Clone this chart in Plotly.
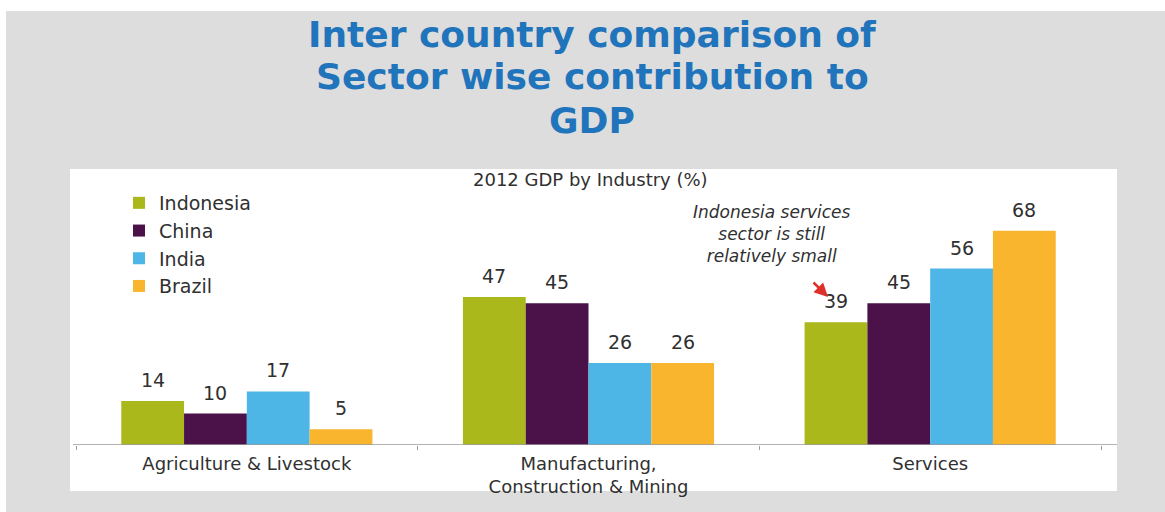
import plotly.graph_objects as go

# ---------------- data ----------------
categories = ["Agriculture & Livestock", "Manufacturing,<br>Construction & Mining", "Services"]
countries = ["Indonesia", "China", "India", "Brazil"]
indonesia = [14, 47, 39]
china = [10, 45, 45]
india = [17, 26, 56]
brazil = [5, 26, 68]
colors = ["#aab81c", "#4a1248", "#4db6e6", "#fab52f"]

title_lines = ["Inter country comparison of", "Sector wise contribution to", "GDP"]
subtitle = "2012 GDP by Industry (%)"
note = "Indonesia services<br>sector is still<br>relatively small"

# ---------------- layout helpers (pixels -> paper) ----------------
W, H = 1165, 512
L, R, B, T = 76, 1101, 445, 172
BARGAP = 0.265
PX_PER_UNIT = 3.15


def px(x):
    return (x - L) / (R - L)


def py(y):
    return (B - y) / (B - T)


series = [indonesia, china, india, brazil]
TEXT = "#303030"
FONT = "DejaVu Sans"

fig = go.Figure()
for name, vals, col in zip(countries, series, colors):
    fig.add_trace(go.Bar(x=categories, y=vals, name=name, marker=dict(color=col, line=dict(width=0))))

annotations = []
# value labels above bars
n = len(series)
bw = (1 - BARGAP) / n
for i, vals in enumerate(series):
    for j, v in enumerate(vals):
        annotations.append(dict(
            x=j + (i - (n - 1) / 2) * bw, y=v, xref="x", yref="y",
            text=str(v), showarrow=False, yanchor="bottom", yshift=8,
            font=dict(family=FONT, size=19, color=TEXT)))

# title
for k, (line, yc) in enumerate(zip(title_lines, [34, 77, 120])):
    annotations.append(dict(
        x=px(592), y=py(yc), xref="paper", yref="paper", text=line,
        showarrow=False, xanchor="center", yanchor="middle",
        font=dict(family="DejaVu Sans", size=36, color="#1f74bb", weight="bold")))

# subtitle
annotations.append(dict(
    x=px(590), y=py(179), xref="paper", yref="paper", text=subtitle,
    showarrow=False, xanchor="center", yanchor="middle",
    font=dict(family=FONT, size=18, color=TEXT)))

# note
annotations.append(dict(
    x=px(772), y=py(234), xref="paper", yref="paper", text=note,
    showarrow=False, xanchor="center", yanchor="middle", align="center",
    font=dict(family=FONT, size=17, color=TEXT, style="italic")))

# red arrow
annotations.append(dict(
    x=px(828), y=py(297), xref="paper", yref="paper", text="",
    showarrow=True, ax=-16, ay=-16, arrowhead=2, arrowsize=1.1, arrowwidth=2.5,
    arrowcolor="#e0302a"))

shapes = [
    # white strips at top / left edge
    dict(type="rect", xref="paper", yref="paper", x0=px(0), x1=px(W), y0=py(11), y1=py(0),
         fillcolor="white", line=dict(width=0), layer="below"),
    dict(type="rect", xref="paper", yref="paper", x0=px(0), x1=px(6), y0=py(H), y1=py(0),
         fillcolor="white", line=dict(width=0), layer="below"),
    # white chart panel
    dict(type="rect", xref="paper", yref="paper", x0=px(70), x1=px(1117), y0=py(491), y1=py(169),
         fillcolor="white", line=dict(width=0), layer="below"),
    # baseline
    dict(type="line", xref="paper", yref="y", x0=px(73), x1=px(1117), y0=0, y1=0,
         line=dict(color="#9a9a9a", width=1.5)),
]

fig.update_layout(
    width=W, height=H,
    margin=dict(l=L, r=W - R, t=T, b=H - B, pad=0),
    paper_bgcolor="#dddddd",
    plot_bgcolor="rgba(0,0,0,0)",
    barmode="group", bargap=BARGAP, bargroupgap=0,
    showlegend=True,
    legend=dict(x=px(119), y=py(184), xanchor="left", yanchor="top",
                bgcolor="rgba(0,0,0,0)", font=dict(family=FONT, size=19, color=TEXT),
                traceorder="normal"),
    xaxis=dict(type="category", showgrid=False, zeroline=False, showline=False,
               ticks="outside", tickson="boundaries", ticklen=4, tickcolor="#9a9a9a",
               tickfont=dict(family=FONT, size=18, color=TEXT), ticklabelstandoff=6),
    yaxis=dict(range=[0, (B - T) / PX_PER_UNIT], visible=False, showgrid=False, zeroline=False),
    annotations=annotations,
    shapes=shapes,
)

fig.write_html("out.html")
